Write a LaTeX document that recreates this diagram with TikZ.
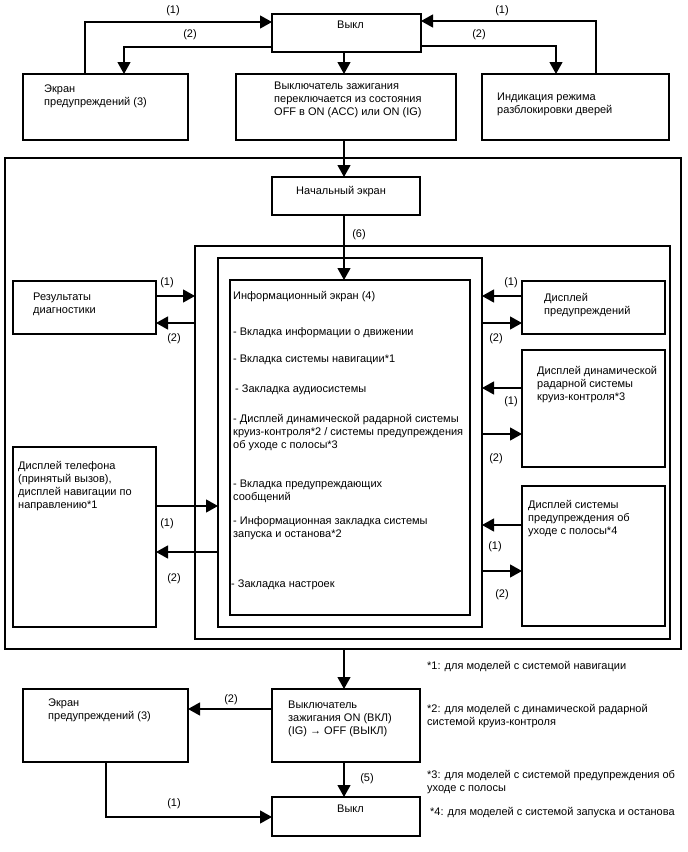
\documentclass[tikz,border=0pt]{standalone}
\usepackage{fontspec}
\setmainfont{Liberation Sans}
\usetikzlibrary{arrows.meta}
\newcommand\bx[5]{\node[bx, anchor=north west, minimum width=#4pt-#2pt, minimum height=#5pt-#3pt] (#1) at (#2,#3) {};}
\begin{document}
\begin{tikzpicture}[x=1pt,y=-1pt,
  bx/.style={draw, line width=1.2pt, inner sep=0pt, outer sep=0pt, fill=none},
  txt/.style={anchor=north west, inner sep=0pt, align=left, yshift=-2pt, font=\fontsize{11}{13}\selectfont},
  lbl/.style={inner sep=0pt, yshift=-1.5pt, font=\fontsize{11}{13}\selectfont},
  arr/.style={line width=1.2pt, -{Triangle[length=12pt,width=13pt]}}]
\useasboundingbox[fill=white] (0,0) rectangle (688,852);
% boxes
\bx{vykl}{272}{14}{421}{52}
\bx{ekran}{23}{74}{188}{140}
\bx{ign}{236}{74}{456}{140}
\bx{door}{482}{74}{669}{140}
\bx{outer}{5}{158}{681}{649}
\bx{start}{272}{177}{420}{215}
\bx{boxb}{195}{246}{670}{639}
\bx{boxc}{218}{258}{482}{627}
\bx{info}{230}{280}{470}{615}
\bx{diag}{13}{281}{156}{334}
\bx{phone}{13}{447}{156}{627}
\bx{warn}{522}{281}{665}{334}
\bx{radar}{522}{350}{665}{467}
\bx{lane}{522}{486}{665}{626}
\bx{igoff}{272}{689}{420}{762}
\bx{ekranb}{23}{689}{188}{762}
\bx{vyklb}{272}{797}{420}{836}
% texts
\node[txt] (tvykl) at (337,19) {Выкл};
\node[txt] (tekran) at (44,83) {Экран\\предупреждений (3)};
\node[txt] (tign) at (274,80) {Выключатель зажигания\\переключается из состояния\\OFF в ON (ACC) или ON (IG)};
\node[txt] (tdoor) at (497,91) {Индикация режима\\разблокировки дверей};
\node[txt] (tstart) at (296,184) {Начальный экран};
\node[txt] (tinfo) at (233,289) {Информационный экран (4)};
\node[txt] (ti1) at (233,325) {- Вкладка информации о движении};
\node[txt] (ti2) at (233,353) {- Вкладка системы навигации*1};
\node[txt] (ti3) at (235,383) {- Закладка аудиосистемы};
\node[txt] (ti4) at (233,412) {- Дисплей динамической радарной системы\\круиз-контроля*2 / системы предупреждения\\об уходе с полосы*3};
\node[txt] (ti5) at (233,478) {- Вкладка предупреждающих\\сообщений};
\node[txt] (ti6) at (233,514) {- Информационная закладка системы\\запуска и останова*2};
\node[txt] (ti7) at (231,578) {- Закладка настроек};
\node[txt] (tdiag) at (33,291) {Результаты\\диагностики};
\node[txt] (tphone) at (18,459) {Дисплей телефона\\(принятый вызов),\\дисплей навигации по\\направлению*1};
\node[txt] (twarn) at (544,291) {Дисплей\\предупреждений};
\node[txt] (tradar) at (537,364) {Дисплей динамической\\радарной системы\\круиз-контроля*3};
\node[txt] (tlane) at (528,498) {Дисплей системы\\предупреждения об\\уходе с полосы*4};
\node[txt] (tigoff) at (288,699) {Выключатель\\зажигания ON (ВКЛ)\\(IG) → OFF (ВЫКЛ)};
\node[txt] (tekranb) at (48,697) {Экран\\предупреждений (3)};
\node[txt] (tvyklb) at (337,803) {Выкл};
\node[txt] (n1) at (427,659) {*1: для моделей с системой навигации};
\node[txt] (n2) at (427,702) {*2: для моделей с динамической радарной\\системой круиз-контроля};
\node[txt] (n3) at (427,768) {*3: для моделей с системой предупреждения об\\уходе с полосы};
\node[txt] (n4) at (430,805) {*4: для моделей с системой запуска и останова};
% labels
\node[lbl] (l1) at (173,9) {(1)};
\node[lbl] (l2) at (190,33) {(2)};
\node[lbl] (l3) at (502,9) {(1)};
\node[lbl] (l4) at (479,33) {(2)};
\node[lbl] (l5) at (359,233) {(6)};
\node[lbl] (l6) at (167,281) {(1)};
\node[lbl] (l7) at (174,337) {(2)};
\node[lbl] (l8) at (167,522) {(1)};
\node[lbl] (l9) at (174,577) {(2)};
\node[lbl] (l10) at (511,281) {(1)};
\node[lbl] (l11) at (496,337) {(2)};
\node[lbl] (l12) at (511,400) {(1)};
\node[lbl] (l13) at (496,457) {(2)};
\node[lbl] (l14) at (495,545) {(1)};
\node[lbl] (l15) at (502,593) {(2)};
\node[lbl] (l16) at (231,698) {(2)};
\node[lbl] (l17) at (174,802) {(1)};
\node[lbl] (l18) at (367,777) {(5)};
% connectors
\draw[arr] (ekran.north -| 85,0) |- (vykl.west |- 0,22);
\draw[arr] (vykl.west |- 0,47) -| (ekran.north -| 124,0);
\draw[arr] (door.north -| 596,0) |- (vykl.east |- 0,21);
\draw[arr] (vykl.east |- 0,46) -| (door.north -| 556,0);
\draw[arr] (vykl.south -| 344,0) -- (ign.north -| 344,0);
\draw[arr] (ign.south -| 344,0) -- (start.north -| 344,0);
\draw[arr] (start.south -| 344,0) -- (info.north -| 344,0);
\draw[arr] (diag.east |- 0,296) -- (boxb.west |- 0,296);
\draw[arr] (boxb.west |- 0,323) -- (diag.east |- 0,323);
\draw[arr] (phone.east |- 0,506) -- (boxc.west |- 0,506);
\draw[arr] (boxc.west |- 0,552) -- (phone.east |- 0,552);
\draw[arr] (warn.west |- 0,296) -- (boxc.east |- 0,296);
\draw[arr] (boxc.east |- 0,323) -- (warn.west |- 0,323);
\draw[arr] (radar.west |- 0,388) -- (boxc.east |- 0,388);
\draw[arr] (boxc.east |- 0,434) -- (radar.west |- 0,434);
\draw[arr] (lane.west |- 0,525) -- (boxc.east |- 0,525);
\draw[arr] (boxc.east |- 0,571) -- (lane.west |- 0,571);
\draw[arr] (outer.south -| 344,0) -- (igoff.north -| 344,0);
\draw[arr] (igoff.west |- 0,709) -- (ekranb.east |- 0,709);
\draw[arr] (ekranb.south -| 106,0) |- (vyklb.west |- 0,817);
\draw[arr] (igoff.south -| 344,0) -- (vyklb.north -| 344,0);
\end{tikzpicture}
\end{document}
